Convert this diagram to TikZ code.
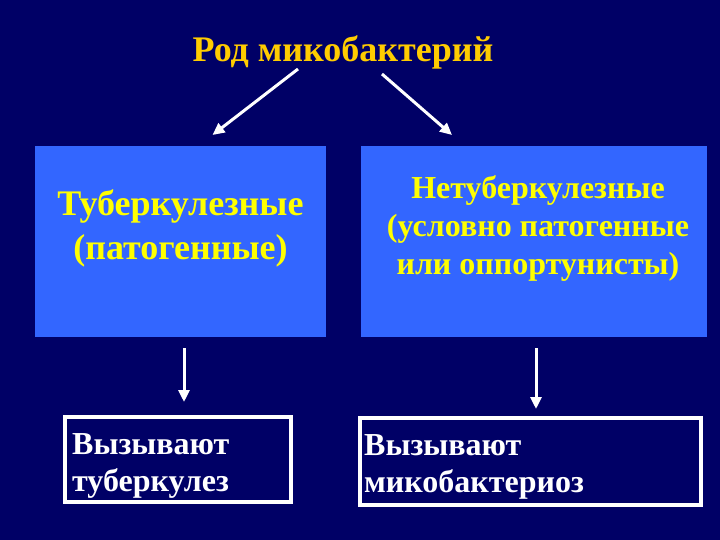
\documentclass[tikz,border=0pt]{standalone}
\usepackage{fontspec}
\setmainfont{Liberation Serif}
\usetikzlibrary{arrows.meta, positioning}
\definecolor{navy}{RGB}{0,0,102}
\definecolor{boxblue}{RGB}{51,102,255}
\definecolor{gold}{RGB}{255,204,0}
\definecolor{lemon}{RGB}{255,255,0}

\begin{document}
\begin{tikzpicture}[x=1pt, y=-1pt, font=\bfseries,
      title/.style = {text=gold, font=\fontsize{36}{40}\selectfont\bfseries, inner sep=0pt},
      blue/.style = {fill=boxblue, inner sep=0pt, outer sep=0pt},
      bluetext/.style = {text=lemon, align=center, inner sep=0pt},
      res/.style = {draw=white, line width=4pt, anchor=north west, inner sep=0pt, outer sep=0pt},
      restext/.style = {text=white, align=left, anchor=west, inner sep=0pt,
                    font=\fontsize{32}{37}\selectfont\bfseries},
      arr/.style = {draw=white, line width=3pt, -{Triangle[length=12pt,width=11pt]}}]
      \fill[navy] (0,0) rectangle (720,540);

      \node[title] (rod) at (343,52) {Род микобактерий};

      \node[blue, minimum width=291pt, minimum height=191pt] (tub) at (180.5,241.5) {};
      \node[blue, minimum width=346pt, minimum height=191pt] (netub) at (534,241.5) {};
      \node[bluetext, font=\fontsize{36}{44}\selectfont\bfseries] (tubtxt) at (180.5,228) {Туберкулезные\\(патогенные)};
      \node[bluetext, font=\fontsize{32}{38}\selectfont\bfseries] (netubtxt) at (538,228.5) {Нетуберкулезные\\(условно патогенные\\или оппортунисты)};

      \node[res, minimum width=226pt, minimum height=85pt] (tbc) at (65,417) {};
      \node[res, minimum width=341pt, minimum height=87pt] (mbz) at (360,418) {};
      \node[restext] (tbctxt) at (72,466) {Вызывают\\туберкулез};
      \node[restext] (mbztxt) at (364,467) {Вызывают\\микобактериоз};

      \draw[arr] ([shift={(-45,17)}]rod.center) -- ([shift={(32,-11)}]tub.north);
      \draw[arr] ([shift={(39,22)}]rod.center) -- ([shift={(-82,-11)}]netub.north);
      \draw[arr] ([shift={(3.5,11)}]tub.south) -- ([shift={(6,-15)}]tbc.north);
      \draw[arr] ([shift={(2,11)}]netub.south) -- ([shift={(5.5,-9)}]mbz.north);
\end{tikzpicture}
\end{document}
